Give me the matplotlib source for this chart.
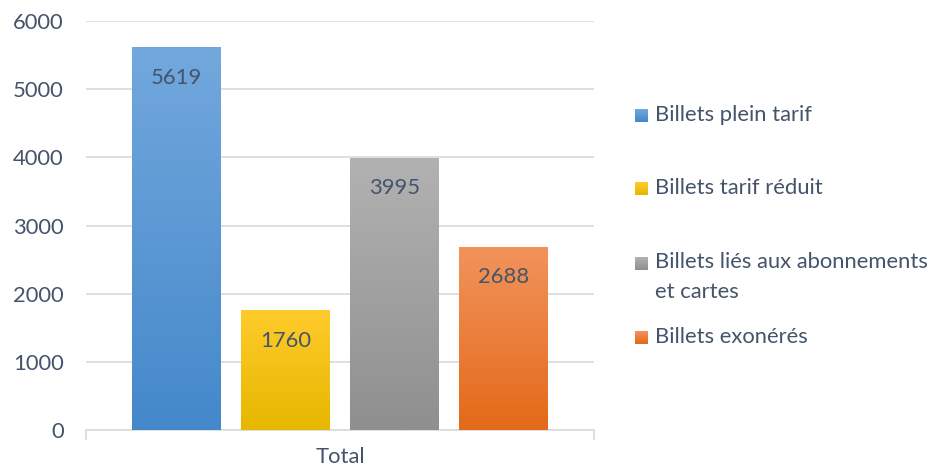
import matplotlib.pyplot as plt
import numpy as np
from matplotlib.colors import LinearSegmentedColormap
from matplotlib.patches import Rectangle

categories = ["Total"]
series = ["Billets plein tarif", "Billets tarif réduit",
          "Billets liés aux abonnements\net cartes", "Billets exonérés"]
values = [5619, 1760, 3995, 2688]
# (top, bottom) gradient colours
colors = [("#72A8DD", "#4488CA"), ("#FFCB2B", "#E6B700"),
          ("#B2B2B2", "#8F8F8F"), ("#F2935C", "#E36A18")]
yticks = [0, 1000, 2000, 3000, 4000, 5000, 6000]

text_col = "#44546A"
grid_col = "#D9D9D9"
fs = 15.8
plt.rcParams['font.family'] = ['Lato', 'DejaVu Sans']

W, H = 934, 470
fig = plt.figure(figsize=(W / 100, H / 100), dpi=100)
ax = fig.add_axes([86 / W, 1 - 430 / H, (594 - 86) / W, (430 - 21) / H])

width = 0.175
step = 0.215
for i, (v, (top, bot)) in enumerate(zip(values, colors)):
    x = (i - 1.5) * step
    bar = ax.bar(x, v, width=width, color=bot, zorder=2)[0]
    cmap = LinearSegmentedColormap.from_list("g", [bot, top])
    grad = np.linspace(0, 1, 256).reshape(-1, 1)
    im = ax.imshow(grad, cmap=cmap, origin="lower", aspect="auto",
                   extent=[x - width / 2, x + width / 2, 0, v], zorder=3)
    im.set_clip_path(bar)
    ax.text(x, v - 450, str(v), ha="center", va="center",
            fontsize=fs, color=text_col, zorder=4)

ax.set_xlim(-0.5, 0.5)
ax.set_ylim(0, 6000)
ax.set_yticks(yticks)
ax.set_yticklabels([str(t) for t in yticks])
ax.set_xticks([0])
ax.set_xticklabels(categories)
ax.set_xticks([-0.5, 0.5], minor=True)
ax.tick_params(axis="x", which="major", length=0, pad=12, labelsize=fs, labelcolor=text_col)
ax.tick_params(axis="x", which="minor", length=7, width=1.2, color=grid_col)
ax.tick_params(axis="y", length=0, pad=16, labelsize=fs, labelcolor=text_col)
ax.grid(axis="y", color=grid_col, linewidth=1.2, zorder=0)
for s in ["left", "right", "top"]:
    ax.spines[s].set_visible(False)
ax.spines["bottom"].set_color(grid_col)
ax.spines["bottom"].set_linewidth(1.2)

# legend drawn by hand to keep handle aligned with first line
leg_y = [115, 188, 263, 337]
for lab, (top, bot), y in zip(series, colors, leg_y):
    sq = fig.add_axes([635 / W, 1 - (y + 7) / H, 13 / W, 13 / H])
    cmap = LinearSegmentedColormap.from_list("g", [bot, top])
    sq.imshow(np.linspace(0, 1, 32).reshape(-1, 1), cmap=cmap, origin="lower", aspect="auto")
    sq.set_axis_off()
    if "\n" in lab:
        fig.text(655 / W, 1 - (y - 11) / H, lab, ha="left", va="top",
                 fontsize=fs, color=text_col, linespacing=1.6)
    else:
        fig.text(655 / W, 1 - y / H, lab, ha="left", va="center",
                 fontsize=fs, color=text_col)

fig.savefig("out.png", dpi=100)
